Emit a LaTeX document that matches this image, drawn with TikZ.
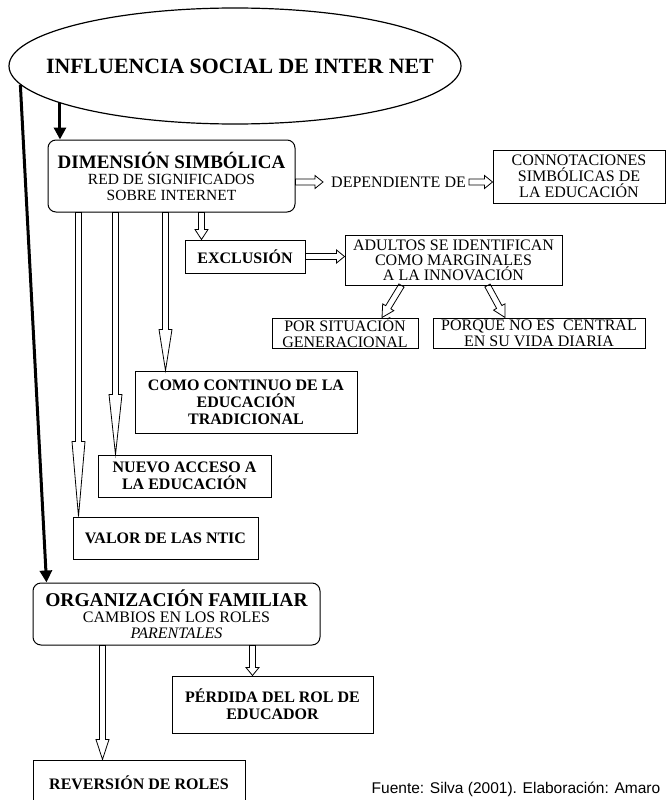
\documentclass[tikz,border=0pt]{standalone}
\usepackage{fontspec}
\setmainfont{Liberation Serif}
\newfontfamily\fuentefont{Liberation Sans}
\usetikzlibrary{shapes.geometric,calc,arrows.meta}

\tikzset{
    box/.style={draw, line width=1pt, inner sep=0pt, align=center,
        font=\fontsize{16}{17}\selectfont\bfseries},
    lbox/.style={box, font=\fontsize{16}{16}\selectfont},
    rbox/.style={box, rounded corners=8pt},
    thickarrow/.style={line width=3pt, -{Triangle[length=12pt,width=12pt]}},
    hollow/.style={line width=0.8pt, to path={
        -- ($(\tikztostart)!3pt!90:(\tikztotarget)$)
        -- ($($(\tikztotarget)!#1!(\tikztostart)$)!3pt!90:(\tikztotarget)$)
        -- ($($(\tikztotarget)!#1!(\tikztostart)$)!6.5pt!90:(\tikztotarget)$)
        -- (\tikztotarget)
        -- ($($(\tikztotarget)!#1!(\tikztostart)$)!6.5pt!-90:(\tikztotarget)$)
        -- ($($(\tikztotarget)!#1!(\tikztostart)$)!3pt!-90:(\tikztotarget)$)
        -- ($(\tikztostart)!3pt!-90:(\tikztotarget)$)
        -- cycle}},
    hollow/.default=10pt
}

\begin{document}
\begin{tikzpicture}[x=1pt, y=-1pt]
    \fill[white] (0,0) rectangle (666,800);
    \useasboundingbox (0,0) rectangle (666,800);

    \node [draw, ellipse, line width=1.2pt, minimum width=452pt, minimum height=116pt, inner sep=0pt,
        font=\fontsize{21.8}{21.8}\selectfont\bfseries] (inf) at (235,66) {\makebox[0pt]{\hspace{10pt}INFLUENCIA SOCIAL DE INTER NET}};

    % Dimension simbolica
    \node [rbox, minimum width=247pt, minimum height=72pt, font=\fontsize{15.5}{16}\selectfont] (dim) at (171.5,176)
        {{\fontsize{19}{19}\selectfont\bfseries DIMENSIÓN SIMBÓLICA}\\ RED DE SIGNIFICADOS\\ SOBRE INTERNET};
    \node [anchor=west, inner sep=0pt, font=\fontsize{16}{16}\selectfont] (dep) at (331,182) {DEPENDIENTE DE};
    \node [lbox, minimum width=172pt, minimum height=53pt] (con) at (579,176.5) {CONNOTACIONES\\SIMBÓLICAS DE\\LA EDUCACIÓN};
    \node [box, minimum width=120pt, minimum height=33pt] (excl) at (245,256.5) {EXCLUSIÓN};
    \node [lbox, font=\fontsize{16}{15}\selectfont, minimum width=217pt, minimum height=50pt] (adul) at (453.5,260)
        {ADULTOS SE IDENTIFICAN\\COMO MARGINALES\\A LA INNOVACIÓN};
    \node [lbox, minimum width=146pt, minimum height=30pt] (por) at (345,333) {POR SITUACIÓN\\GENERACIONAL};
    \node [lbox, minimum width=212pt, minimum height=30pt] (porq) at (539,333) {PORQUE NO ES \ CENTRAL\\EN SU VIDA DIARIA};
    \node [box, minimum width=222pt, minimum height=62pt] (como) at (246,402) {COMO CONTINUO DE LA\\EDUCACIÓN\\TRADICIONAL};
    \node [box, minimum width=173pt, minimum height=42pt] (nuevo) at (184.5,476) {NUEVO ACCESO A\\LA EDUCACIÓN};
    \node [box, minimum width=185pt, minimum height=42pt] (valor) at (165.5,538) {VALOR DE LAS NTIC};

    % Organizacion familiar
    \node [rbox, minimum width=287pt, minimum height=62pt, font=\fontsize{16}{16}\selectfont] (org) at (176.5,614)
        {{\fontsize{19.5}{19.5}\selectfont\bfseries ORGANIZACIÓN FAMILIAR}\\CAMBIOS EN LOS ROLES\\\textit{PARENTALES}};
    \node [box, minimum width=201pt, minimum height=57pt] (perd) at (272.5,704.5) {PÉRDIDA DEL ROL DE\\EDUCADOR};
    \node [box, minimum width=212pt, minimum height=46pt] (rev) at (139,783) {REVERSIÓN DE ROLES};
    \node [inner sep=0pt, font=\fontsize{15.5}{15.5}\fuentefont] (fuente) at (516,789) {Fuente: Silva (2001). Elaboración: Amaro};

    % Arrows
    \draw [thickarrow] (inf.192) -- (inf.192 |- dim.north);
    \draw [thickarrow] (inf.185) -- ([xshift=14pt]org.north west);

    \coordinate (v1) at ([xshift=6pt]valor.north west);
    \coordinate (v2) at ([xshift=18pt]nuevo.north west);
    \coordinate (v3) at ([xshift=31pt]como.north west);
    \coordinate (v4) at ([xshift=17pt]excl.north west);
    \draw [hollow=75pt] (dim.south -| v1) to (v1);
    \draw [hollow=60pt] (dim.south -| v2) to (v2);
    \draw [hollow=41pt] (dim.south -| v3) to (v3);
    \draw [hollow] (dim.south -| v4) to (v4);
    \draw [hollow=8pt] (dim.east |- dep.west) to ([xshift=-8pt]dep.west);
    \draw [hollow=8pt] ([xshift=3pt]dep.east) to (dep.east -| con.west);
    \draw [hollow=8pt] (excl.east) to (excl.east -| adul.west);
    \draw [hollow=12pt] ([xshift=-52pt]adul.south) to ([xshift=37pt]por.north);
    \draw [hollow=12pt] ([xshift=34pt]adul.south) to ([xshift=-34pt]porq.north);

    \coordinate (r1) at ([xshift=70pt]rev.north west);
    \coordinate (p1) at ([xshift=81pt]perd.north west);
    \draw [hollow=20pt] (org.south -| r1) to (r1);
    \draw [hollow=8pt] (org.south -| p1) to (p1);
\end{tikzpicture}
\end{document}
